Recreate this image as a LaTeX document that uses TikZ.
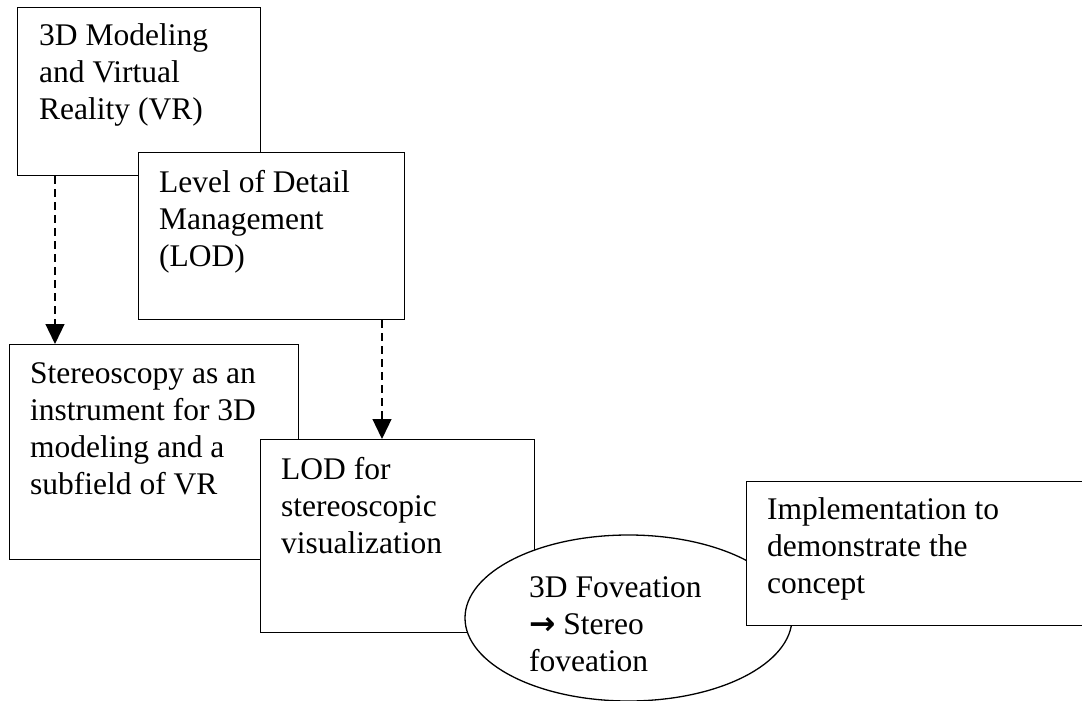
\documentclass[tikz,border=0pt]{standalone}
\usepackage{fontspec}
\setmainfont{Liberation Serif}
\newfontfamily\symf{DejaVu Sans}
\usetikzlibrary{shapes.geometric,arrows.meta,calc}
\newcommand{\firstline}{\rule{0pt}{30pt}}
\tikzset{
  box/.style={draw=black, line width=1.3pt, fill=white, rectangle, inner sep=0pt, anchor=north west},
  oval/.style={draw=black, line width=1.3pt, fill=white, ellipse, inner sep=0pt},
  txt/.style={anchor=north west, inner sep=0pt, align=left, font=\fontsize{31.5}{37}\selectfont},
  link/.style={draw=black, line width=1.3pt, dash pattern=on 8pt off 5pt,
    -{Triangle[length=20pt,width=19pt]}},
}
\begin{document}
\begin{tikzpicture}[x=1pt,y=-1pt]
\useasboundingbox (0,0) rectangle (1082,701);
\clip (0,0) rectangle (1082,701);
\fill[white] (0,0) rectangle (1082,701);

% upper pair of topics
\node[box, minimum width=243pt, minimum height=168pt] (b1) at (17,7) {};
\node[txt] (t1) at (39,15) {\firstline 3D Modeling\\ and Virtual\\ Reality (VR)};
\node[box, minimum width=266pt, minimum height=167pt] (b2) at (138,152) {};
\node[txt] (t2) at (159,162) {\firstline Level of Detail\\ Management\\ (LOD)};

% middle pair of topics
\node[box, minimum width=289pt, minimum height=215pt] (b3) at (9,344) {};
\node[txt] (t3) at (30,353) {\firstline Stereoscopy as an\\ instrument for 3D\\ modeling and a\\ subfield of VR};
\node[box, minimum width=274pt, minimum height=193pt] (b4) at (260,439) {};
\node[txt] (t4) at (281,449) {\firstline LOD for\\ stereoscopic\\ visualization};

% dependencies
\draw[link] ([xshift=38pt]b1.south west) -- ([xshift=46pt]b3.north west);
\draw[link] ([xshift=244pt]b2.south west) -- ([xshift=122pt]b4.north west);

% foveation and implementation
\node[oval, minimum width=327pt, minimum height=166pt] (e) at (628.5,618) {};
\node[txt] (te) at (529,567) {\firstline 3D Foveation\\ {\symf\bfseries →} Stereo\\ foveation};
\node[box, minimum width=360pt, minimum height=144pt] (b5) at (746,481) {};
\node[txt] (t5) at (767,489) {\firstline Implementation to\\ demonstrate the\\ concept};
\end{tikzpicture}
\end{document}
